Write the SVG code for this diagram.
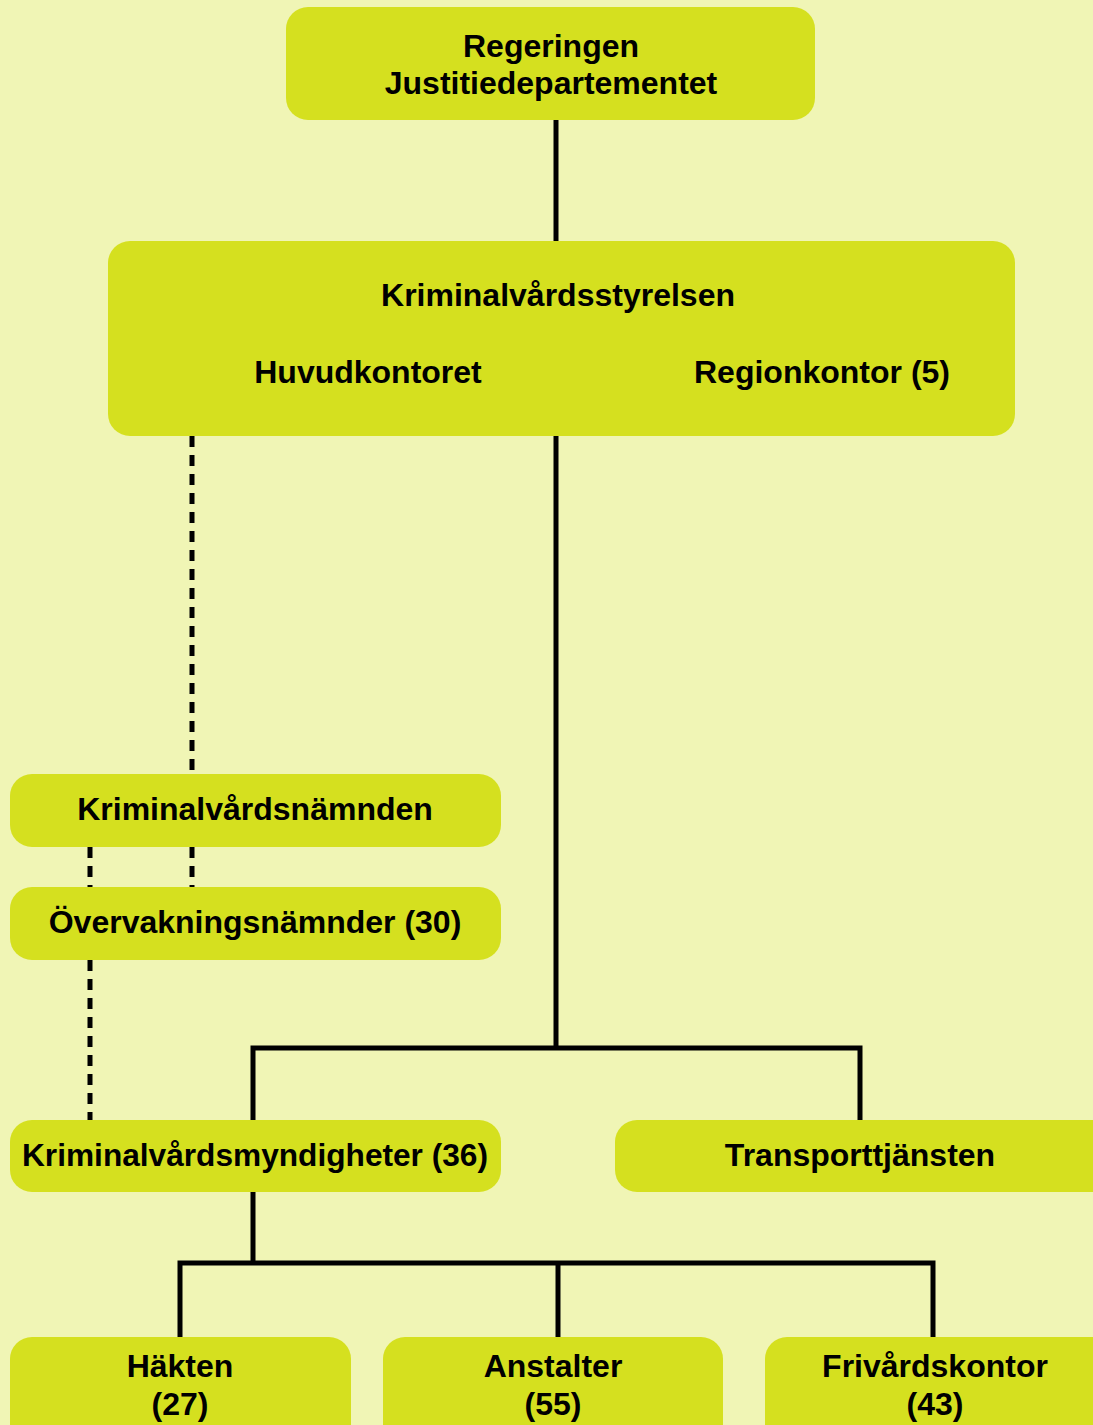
<svg xmlns="http://www.w3.org/2000/svg" width="1093" height="1425" viewBox="0 0 1093 1425">
<style>
.node{fill:#D5E01F}
.t{font-family:"Liberation Sans",Arial,sans-serif;font-weight:bold;font-size:32px;fill:#000;text-anchor:middle}
.solid{stroke:#000;stroke-width:5;fill:none}
.dash{stroke:#000;stroke-width:5;fill:none;stroke-dasharray:11 8}
</style>
<rect width="1093" height="1425" fill="#F0F5B5"/>
<g id="connectors">
<line class="solid" x1="556" y1="120" x2="556" y2="241"/>
<line class="solid" x1="556" y1="436" x2="556" y2="1048"/>
<polyline class="solid" points="253,1120 253,1048 860,1048 860,1120"/>
<line class="solid" x1="253" y1="1192" x2="253" y2="1263"/>
<polyline class="solid" points="180,1337 180,1263 933,1263 933,1337"/>
<line class="solid" x1="558" y1="1263" x2="558" y2="1337"/>
<line class="dash" x1="192" y1="436" x2="192" y2="774"/>
<line class="dash" x1="192" y1="847" x2="192" y2="887"/>
<line class="dash" x1="90" y1="847" x2="90" y2="887"/>
<line class="dash" x1="90" y1="960" x2="90" y2="1120"/>
</g>
<g id="regeringen">
<rect class="node" x="286" y="7" width="529" height="113" rx="22"/>
<text class="t" x="551" y="57">Regeringen</text>
<text class="t" x="551" y="94">Justitiedepartementet</text>
</g>
<g id="kriminalvardsstyrelsen">
<rect class="node" x="108" y="241" width="907" height="195" rx="22"/>
<text class="t" x="558" y="306">Kriminalvårdsstyrelsen</text>
<text class="t" x="368" y="383">Huvudkontoret</text>
<text class="t" x="822" y="383">Regionkontor (5)</text>
</g>
<g id="kriminalvardsnamnden">
<rect class="node" x="10" y="774" width="491" height="73" rx="22"/>
<text class="t" x="255" y="820">Kriminalvårdsnämnden</text>
</g>
<g id="overvakningsnamnder">
<rect class="node" x="10" y="887" width="491" height="73" rx="22"/>
<text class="t" x="255" y="933">Övervakningsnämnder (30)</text>
</g>
<g id="kriminalvardsmyndigheter">
<rect class="node" x="10" y="1120" width="491" height="72" rx="22"/>
<text class="t" x="255" y="1166" textLength="466" lengthAdjust="spacingAndGlyphs">Kriminalvårdsmyndigheter (36)</text>
</g>
<g id="transporttjansten">
<rect class="node" x="615" y="1120" width="500" height="72" rx="22"/>
<text class="t" x="860" y="1166">Transporttjänsten</text>
</g>
<g id="hakten">
<rect class="node" x="10" y="1337" width="341" height="120" rx="22"/>
<text class="t" x="180" y="1377">Häkten</text>
<text class="t" x="180" y="1415">(27)</text>
</g>
<g id="anstalter">
<rect class="node" x="383" y="1337" width="340" height="120" rx="22"/>
<text class="t" x="553" y="1377">Anstalter</text>
<text class="t" x="553" y="1415">(55)</text>
</g>
<g id="frivardskontor">
<rect class="node" x="765" y="1337" width="360" height="120" rx="22"/>
<text class="t" x="935" y="1377">Frivårdskontor</text>
<text class="t" x="935" y="1415">(43)</text>
</g>
</svg>
